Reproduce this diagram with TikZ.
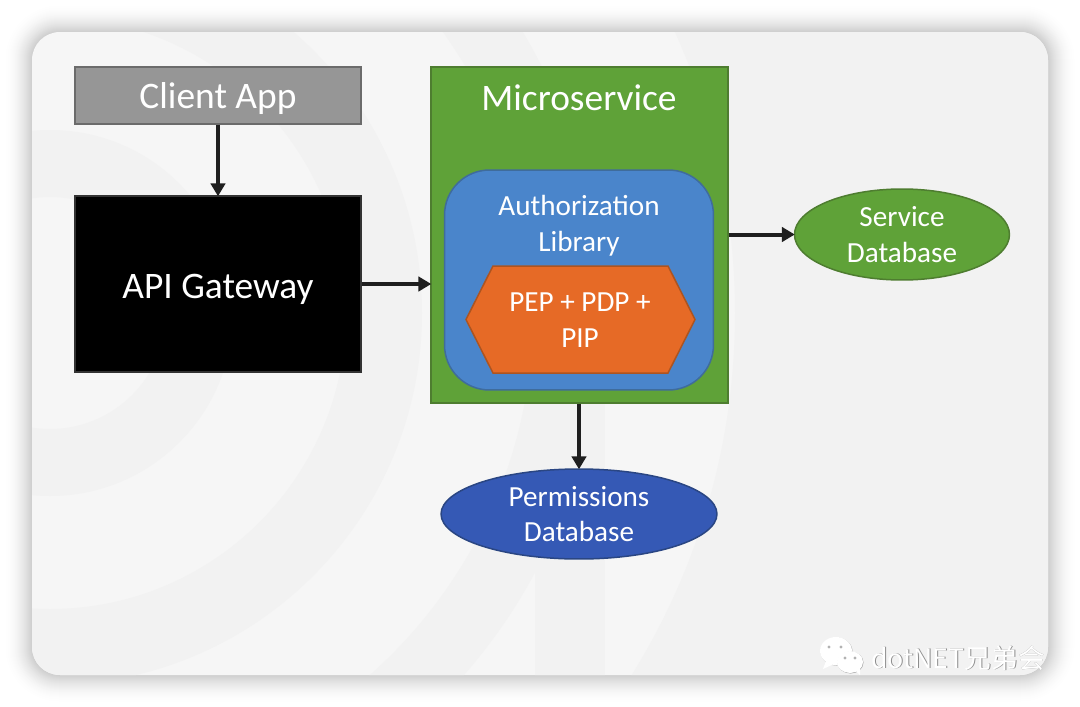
\documentclass[tikz,border=0pt]{standalone}
\usepackage{fontspec}
\setmainfont{Carlito}
\newfontfamily\cjkfont{Noto Sans CJK SC}
\usetikzlibrary{arrows.meta,shapes.geometric}
\definecolor{cardlight}{HTML}{F6F6F6}
\definecolor{carddark}{HTML}{F2F2F2}
\definecolor{msgreen}{HTML}{5FA238}
\definecolor{msgreenedge}{HTML}{4E7D30}
\definecolor{authblue}{HTML}{4A85CB}
\definecolor{authblueedge}{HTML}{3F6C9C}
\definecolor{pepred}{HTML}{E66A26}
\definecolor{pepedge}{HTML}{AD5420}
\definecolor{permblue}{HTML}{3559B5}
\definecolor{permedge}{HTML}{2A4683}
\newcommand{\bigtxt}{\fontsize{21.3}{23}\selectfont}
\newcommand{\smalltxt}{\fontsize{16.6}{20.4}\selectfont}
\begin{document}
\begin{tikzpicture}[x=0.02cm, y=-0.02cm, >={Triangle[length=2.6mm,width=2.9mm]},
	box/.style={draw, line width=0.3mm, text=white, inner sep=0pt, align=center},
	link/.style={->, color=black!88, line width=0.8mm, shorten >=-0.2mm},
	wmark/.style={text=white, inner sep=0pt, font=\cjkfont\fontsize{15.2}{15.2}\selectfont}]
	\useasboundingbox (0,0) rectangle (1080,707);
	\fill[white] (0,0) rectangle (1080,707);
	\foreach \i in {28,...,1}{
		\pgfmathsetmacro{\shade}{20*(1-\i/29)*(1-\i/29)}
		\fill[black!\shade, rounded corners={(28+\i)*0.567pt}] (32-\i,32-\i) rectangle (1048+\i,675+\i);
	}
	\begin{scope}
		\clip[rounded corners=5.6mm] (32,32) rectangle (1048,675);
		\fill[cardlight] (0,0) rectangle (1080,707);
		\fill[carddark, even odd rule] (50,313) circle[radius=116] (50,313) circle[radius=183];
		\fill[carddark, even odd rule] (50,313) circle[radius=296] (50,313) circle[radius=372];
		\fill[carddark, even odd rule] (50,313) circle[radius=483] (50,313) circle[radius=550];
		\fill[carddark, even odd rule] (0,0) rectangle (1080,707) (50,313) circle[radius=685];
		\fill[carddark] (535,313) rectangle (605,707);
	\end{scope}

	\node[box, fill=black!41, draw=black!58, minimum width=57.2mm, minimum height=11.4mm, text height=15pt, text depth=0pt, font=\bigtxt] (client) at (218,95.5) {Client App};
	\node[box, fill=black, draw=black!80, minimum width=57.2mm, minimum height=35.2mm, text height=16pt, text depth=0pt, font=\bigtxt] (gateway) at (218,284) {API Gateway};
	\node[box, fill=msgreen, draw=msgreenedge, minimum width=59.4mm, minimum height=67.2mm] (micro) at (579.5,235) {};
	\node[text=white, inner sep=0pt, font=\bigtxt] (microtitle) at (579,98) {Microservice};
	\node[box, fill=authblue, draw=authblueedge, rounded corners=9mm, minimum width=53.8mm, minimum height=44mm] (auth) at (579,280) {};
	\node[text=white, inner sep=0pt, align=center, font=\smalltxt] (authtitle) at (579,226) {Authorization\\Library};
	\draw[fill=pepred, draw=pepedge, line width=0.3mm] (493,266) -- (668,266) -- (695,319.5) -- (668,373) -- (493,373) -- (466,319.5) -- cycle;
	\node[text=white, inner sep=0pt, align=center, font=\smalltxt] (pep) at (580,320.5) {PEP + PDP +\\PIP};
	\node[box, ellipse, fill=msgreen, draw=msgreenedge, minimum width=43mm, minimum height=18.2mm, font=\smalltxt] (servicedb) at (902,234.5) {Service\\Database};
	\node[box, ellipse, fill=permblue, draw=permedge, minimum width=55.2mm, minimum height=18mm, font=\smalltxt] (permdb) at (579,514) {Permissions\\Database};

	\draw[link] (client.south) -- (gateway.north);
	\draw[link] (gateway.east) -- (gateway.east -| micro.west);
	\draw[link] (servicedb.west -| micro.east) -- (servicedb.west);
	\draw[link] (micro.south -| permdb.north) -- (permdb.north);

	\fill[black!35] (836.5,651.5) ellipse[x radius=16, y radius=14];
	\fill[white] (836,651) ellipse[x radius=16, y radius=14];
	\fill[white] (826,661) -- (823,669) -- (836,663) -- cycle;
	\fill[black!35] (850.5,662.5) ellipse[x radius=13, y radius=11];
	\fill[white] (850,662) ellipse[x radius=13, y radius=11];
	\fill[white] (855,670) -- (860,675) -- (860,666) -- cycle;
	\foreach \ex/\ey in {829/647,841/647,845/658,855/658}
		\fill[black!30] (\ex,\ey) circle[radius=1.7];
	\node[wmark, text=black!45, anchor=west] (markshade) at (871.7,658.7) {dotNET兄弟会};
	\node[wmark, anchor=west] (marktext) at (871,658) {dotNET兄弟会};
\end{tikzpicture}
\end{document}
